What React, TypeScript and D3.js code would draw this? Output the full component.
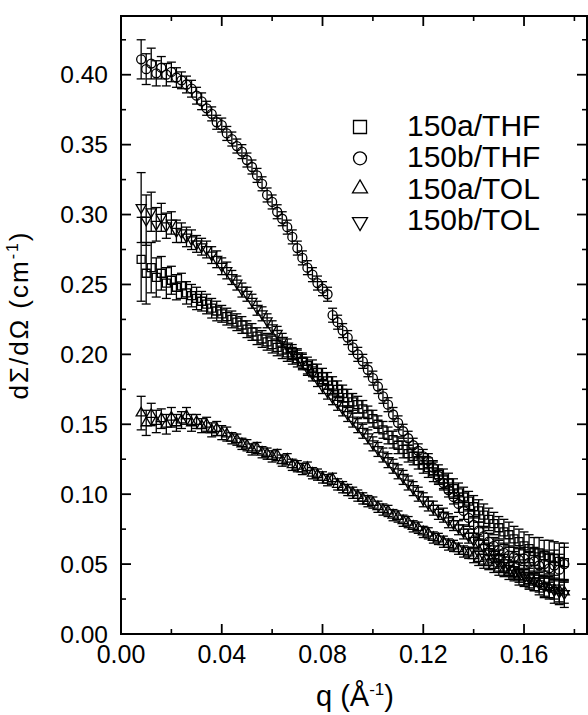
import React from 'react';
import * as d3 from 'd3';

// q grid (Å^-1)
const qValues = [
  0.008, 0.010, 0.012, 0.014, 0.016, 0.018, 0.020, 0.022, 0.024, 0.026,
  0.028, 0.030, 0.032, 0.034, 0.036, 0.038, 0.040, 0.042, 0.044, 0.046,
  0.048, 0.050, 0.052, 0.054, 0.056, 0.058, 0.060, 0.062, 0.064, 0.066,
  0.068, 0.070, 0.072, 0.074, 0.076, 0.078, 0.080, 0.082, 0.084, 0.086,
  0.088, 0.090, 0.092, 0.094, 0.096, 0.098, 0.100, 0.102, 0.104, 0.106,
  0.108, 0.110, 0.112, 0.114, 0.116, 0.118, 0.120, 0.122, 0.124, 0.126,
  0.128, 0.130, 0.132, 0.134, 0.136, 0.138, 0.140, 0.142, 0.144, 0.146,
  0.148, 0.150, 0.152, 0.154, 0.156, 0.158, 0.160, 0.162, 0.164, 0.166,
  0.168, 0.170, 0.172, 0.174, 0.176,
];

// dΣ/dΩ values in units of 0.001 cm^-1
const val150aTHF = [
  268, 258, 262, 255, 258, 251, 253, 248, 249, 244,
  242, 240, 238, 236, 233, 231, 229, 227, 225, 223,
  221, 218, 216, 213, 211, 209, 207, 205, 203, 201,
  199, 197, 195, 192, 190, 187, 184, 181, 178, 175,
  172, 169, 166, 164, 161, 157, 154, 150, 146, 142,
  139, 135, 132, 129, 127, 124, 121, 119, 116, 114,
  111, 108, 104, 101, 98, 95, 91, 88, 85, 82,
  79, 76, 73, 71, 68, 66, 63, 61, 59, 58,
  56, 55, 54, 52, 51,
];
const err150aTHF = [
  30, 22, 18, 14, 12, 11, 10, 9, 9, 8,
  8, 8, 7, 7, 7, 7, 6, 6, 6, 6,
  6, 6, 6, 6, 6, 6, 6, 6, 6, 6,
  6, 6, 6, 6, 6, 6, 6, 6, 6, 6,
  6, 6, 6, 6, 6, 6, 6, 6, 6, 6,
  6, 6, 6, 6, 6, 6, 6, 7, 7, 7,
  7, 7, 7, 7, 7, 7, 8, 8, 8, 8,
  8, 8, 9, 9, 9, 9, 10, 10, 10, 11,
  11, 12, 12, 13, 14,
];

const val150bTHF = [
  411, 404, 408, 401, 405, 400, 402, 398, 396, 393,
  390, 385, 381, 376, 372, 366, 364, 358, 354, 349,
  345, 339, 334, 328, 322, 314, 309, 302, 297, 291,
  284, 276, 269, 262, 257, 251, 247, 243, 228, 223,
  217, 212, 205, 200, 195, 189, 183, 177, 170, 164,
  157, 151, 145, 140, 135, 131, 127, 124, 119, 113,
  108, 103, 98, 93, 88, 83, 78, 74, 70, 66,
  63, 60, 58, 56, 55, 53, 54, 51, 52, 49,
  50, 47, 49, 46, 50,
];
const err150bTHF = [
  14, 11, 11, 9, 8, 8, 7, 7, 6, 6,
  6, 6, 6, 5, 5, 5, 5, 5, 5, 5,
  5, 5, 5, 5, 5, 5, 5, 5, 5, 5,
  5, 5, 5, 5, 5, 5, 5, 5, 5, 5,
  5, 5, 5, 5, 5, 5, 5, 5, 5, 5,
  5, 5, 5, 5, 5, 5, 5, 5, 5, 5,
  5, 5, 5, 6, 6, 6, 6, 6, 6, 6,
  6, 7, 7, 7, 7, 8, 8, 8, 9, 9,
  10, 10, 11, 11, 12,
];

const val150aTOL = [
  158, 151, 157, 152, 154, 150, 155, 151, 153, 156,
  151, 152, 149, 150, 146, 147, 144, 143, 140, 139,
  136, 135, 132, 133, 130, 129, 127, 128, 124, 125,
  121, 120, 118, 119, 115, 114, 112, 110, 111, 107,
  105, 103, 101, 99, 97, 95, 94, 91, 89, 88,
  85, 84, 81, 80, 77, 76, 73, 72, 69, 68,
  66, 64, 63, 61, 59, 58, 56, 54, 52, 51,
  49, 47, 46, 44, 43, 41, 40, 38, 37, 36,
  34, 33, 32, 31, 30,
];
const err150aTOL = [
  12, 9, 8, 8, 7, 7, 7, 6, 6, 6,
  6, 5, 5, 5, 5, 5, 5, 5, 4, 4,
  4, 4, 4, 4, 4, 4, 4, 4, 4, 4,
  4, 4, 4, 4, 4, 4, 4, 4, 4, 4,
  4, 4, 4, 4, 4, 4, 4, 4, 4, 4,
  4, 4, 4, 4, 4, 4, 4, 4, 4, 4,
  4, 4, 4, 4, 4, 4, 5, 5, 5, 5,
  5, 5, 5, 5, 5, 6, 6, 6, 6, 6,
  7, 7, 7, 8, 8,
];

const val150bTOL = [
  305, 296, 302, 293, 298, 292, 294, 288, 287, 284,
  282, 279, 277, 275, 271, 268, 263, 260, 255, 251,
  246, 243, 238, 233, 229, 224, 219, 215, 210, 206,
  202, 199, 195, 190, 186, 182, 177, 173, 169, 165,
  161, 157, 153, 149, 145, 141, 136, 132, 128, 124,
  120, 116, 112, 108, 104, 100, 96, 93, 90, 87,
  85, 81, 79, 76, 73, 70, 67, 65, 62, 59,
  57, 54, 51, 49, 46, 44, 42, 40, 38, 36,
  34, 33, 31, 30, 29,
];
const err150bTOL = [
  25, 18, 14, 12, 10, 9, 8, 8, 7, 7,
  7, 6, 6, 6, 6, 6, 6, 6, 5, 5,
  5, 5, 5, 5, 5, 5, 5, 5, 5, 5,
  5, 5, 5, 5, 5, 5, 5, 5, 5, 5,
  5, 5, 5, 5, 5, 5, 5, 5, 5, 5,
  5, 5, 5, 5, 5, 5, 5, 5, 5, 5,
  5, 5, 5, 5, 5, 5, 5, 5, 5, 6,
  6, 6, 6, 6, 6, 7, 7, 7, 7, 8,
  8, 8, 9, 9, 10,
];

const seriesNames = ['150a/THF', '150b/THF', '150a/TOL', '150b/TOL'];
const xTicks = [0.0, 0.04, 0.08, 0.12, 0.16];
const xMinorTicks = [0.02, 0.06, 0.1, 0.14, 0.18];
const yTicks = [0.0, 0.05, 0.1, 0.15, 0.2, 0.25, 0.3, 0.35, 0.4];
const yMinorTicks = [0.025, 0.075, 0.125, 0.175, 0.225, 0.275, 0.325, 0.375, 0.425];

const W = 588;
const H = 715;
const FONT = '"Liberation Sans", Arial, Helvetica, sans-serif';

type Kind = 'square' | 'circle' | 'up' | 'down';

function markerPath(kind: Kind, size: number): string {
  if (kind === 'square') return d3.symbol(d3.symbolSquare, size * size)()!;
  if (kind === 'circle') return d3.symbol(d3.symbolCircle, Math.PI * (size / 2) * (size / 2))()!;
  const h = (size * Math.sqrt(3)) / 2;
  if (kind === 'up') {
    return `M0,${-h * 2 / 3}L${size / 2},${h / 3}L${-size / 2},${h / 3}Z`;
  }
  return `M0,${h * 2 / 3}L${size / 2},${-h / 3}L${-size / 2},${-h / 3}Z`;
}

export default function App() {
  const x = d3.scaleLinear().domain([0, 0.185]).range([121, 587]);
  const y = d3.scaleLinear().domain([0, 0.442]).range([634, 16]);

  const series = [
    { name: seriesNames[0], kind: 'square' as Kind, vals: val150aTHF, errs: err150aTHF, size: 8 },
    { name: seriesNames[1], kind: 'circle' as Kind, vals: val150bTHF, errs: err150bTHF, size: 9 },
    { name: seriesNames[2], kind: 'up' as Kind, vals: val150aTOL, errs: err150aTOL, size: 10 },
    { name: seriesNames[3], kind: 'down' as Kind, vals: val150bTOL, errs: err150bTOL, size: 10 },
  ];

  const [x0, x1] = x.range();
  const [y0, y1] = y.range();
  const cap = 4.5;

  return (
    <svg width={W} height={H} style={{ position: 'absolute', left: 0, top: 0, background: '#fff' }}
      fontFamily={FONT}>
      <rect x={0} y={0} width={W} height={H} fill="#fff" />
      {series.map((s) => (
        <g key={s.name}>
          {qValues.map((q, i) => {
            const v = s.vals[i] / 1000;
            const e = s.errs[i] / 1000;
            const cx = x(q);
            const yt = y(v + e);
            const yb = y(v - e);
            return (
              <g key={i} stroke="#000" strokeWidth={1.3} fill="none">
                <line x1={cx} x2={cx} y1={yt} y2={yb} />
                <line x1={cx - cap} x2={cx + cap} y1={yt} y2={yt} />
                <line x1={cx - cap} x2={cx + cap} y1={yb} y2={yb} />
              </g>
            );
          })}
          {qValues.map((q, i) => (
            <path key={'m' + i} d={markerPath(s.kind, s.size)}
              transform={`translate(${x(q)},${y(s.vals[i] / 1000)})`}
              fill="none" stroke="#000" strokeWidth={1.3} />
          ))}
        </g>
      ))}

      <rect x={x0} y={y1} width={x1 - x0} height={y0 - y1} fill="none" stroke="#000" strokeWidth={2} />

      {xTicks.map((t) => (
        <g key={'xt' + t} stroke="#000" strokeWidth={1.8}>
          <line x1={x(t)} x2={x(t)} y1={y0} y2={y0 - 10} />
          <line x1={x(t)} x2={x(t)} y1={y1} y2={y1 + 10} />
        </g>
      ))}
      {xMinorTicks.map((t) => (
        <g key={'xm' + t} stroke="#000" strokeWidth={1.6}>
          <line x1={x(t)} x2={x(t)} y1={y0} y2={y0 - 5} />
          <line x1={x(t)} x2={x(t)} y1={y1} y2={y1 + 5} />
        </g>
      ))}
      {yTicks.map((t) => (
        <g key={'yt' + t} stroke="#000" strokeWidth={1.8}>
          <line x1={x0} x2={x0 + 10} y1={y(t)} y2={y(t)} />
          <line x1={x1} x2={x1 - 10} y1={y(t)} y2={y(t)} />
        </g>
      ))}
      {yMinorTicks.map((t) => (
        <g key={'ym' + t} stroke="#000" strokeWidth={1.6}>
          <line x1={x0} x2={x0 + 5} y1={y(t)} y2={y(t)} />
          <line x1={x1} x2={x1 - 5} y1={y(t)} y2={y(t)} />
        </g>
      ))}

      {xTicks.map((t) => (
        <text key={'xl' + t} x={x(t)} y={663} textAnchor="middle" fontSize={25} fill="#000">
          {t.toFixed(2)}
        </text>
      ))}
      {yTicks.map((t) => (
        <text key={'yl' + t} x={108} y={y(t) + 8.5} textAnchor="end" fontSize={24.5} fill="#000">
          {t.toFixed(2)}
        </text>
      ))}

      <text x={355} y={706} textAnchor="middle" fontSize={29} fill="#000">
        q (Å<tspan dy={-11} fontSize={17}>-1</tspan><tspan dy={11}>)</tspan>
      </text>
      <text transform="translate(28,315) rotate(-90)" textAnchor="middle" fontSize={26} fill="#000" letterSpacing={2}>
        dΣ/dΩ (cm<tspan dy={-10} fontSize={16}>-1</tspan><tspan dy={10}>)</tspan>
      </text>

      {series.map((s, i) => {
        const cy = 136 + i * 31.3;
        return (
          <g key={'lg' + i}>
            <path d={markerPath(s.kind, s.kind === 'up' || s.kind === 'down' ? 15 : 13)}
              transform={`translate(360,${cy - 9 + (s.kind === 'up' ? -1 : s.kind === 'down' ? 1 : 0)})`}
              fill="none" stroke="#000" strokeWidth={1.3} />
            <text x={407} y={cy} fontSize={30} fill="#000">{s.name}</text>
          </g>
        );
      })}
    </svg>
  );
}
